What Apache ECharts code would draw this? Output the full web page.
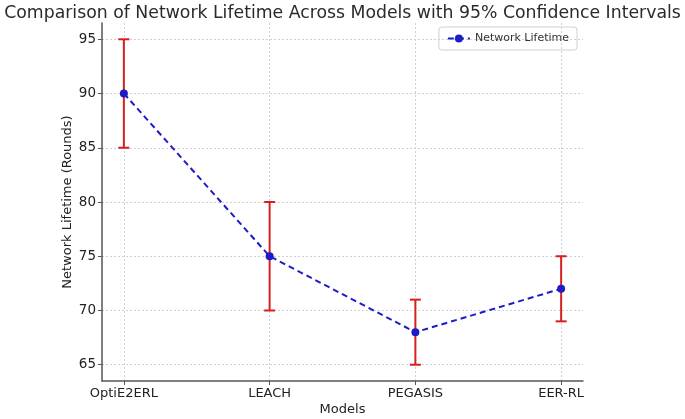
<!DOCTYPE html>
<html>
<head>
<meta charset="utf-8">
<script src="https://cdn.jsdelivr.net/npm/echarts@6/dist/echarts.min.js"></script>
<style>
  html, body { margin: 0; padding: 0; background: #fff; }
  #chart { width: 685px; height: 419px; }
</style>
</head>
<body>
<div id="chart"></div>
<script>
// data
const models = ["OptiE2ERL", "LEACH", "PEGASIS", "EER-RL"];
const lifetime = [90, 75, 68, 72];
const ciLow = [85, 70, 65, 69];
const ciHigh = [95, 80, 71, 75];
const yTicks = [65, 70, 75, 80, 85, 90, 95];
const xTicks = [0, 1, 2, 3];

const chart = echarts.init(document.getElementById("chart"));

const font = "DejaVu Sans";

chart.setOption({
  animation: false,
  textStyle: { fontFamily: font },
  title: {
    text: "Comparison of Network Lifetime Across Models with 95% Confidence Intervals",
    left: "center",
    top: 0,
    textStyle: { fontFamily: font, fontSize: 17.3, fontWeight: "normal", color: "#2a2a2a" }
  },
  legend: {
    right: 108,
    top: 27,
    data: ["Network Lifetime"],
    borderColor: "#d0d0d0",
    borderWidth: 1,
    borderRadius: 3,
    padding: [6, 8],
    itemWidth: 22,
    itemHeight: 10,
    itemGap: 6,
    textStyle: { fontFamily: font, fontSize: 11, color: "#333" }
  },
  grid: { left: 102, right: 102, top: 23, bottom: 38, outerBoundsMode: "none" },
  xAxis: {
    type: "value",
    min: -0.15,
    max: 3.15,
    name: "Models",
    nameLocation: "middle",
    nameGap: 22,
    nameMoveOverlap: false,
    nameTextStyle: { fontFamily: font, fontSize: 13, color: "#222" },
    axisLine: { onZero: false, lineStyle: { color: "#555", width: 1.5 } },
    axisTick: { customValues: xTicks, length: 4, lineStyle: { color: "#555" } },
    axisLabel: {
      customValues: xTicks,
      formatter: v => models[Math.round(v)] || "",
      fontSize: 13,
      color: "#222",
      margin: 6
    },
    splitLine: { show: true, lineStyle: { color: "#d0d0d0", type: [2, 2] } }
  },
  yAxis: {
    type: "value",
    min: 63.5,
    max: 96.5,
    name: "Network Lifetime (Rounds)",
    nameLocation: "middle",
    nameGap: 28,
    nameMoveOverlap: false,
    nameTextStyle: { fontFamily: font, fontSize: 13, color: "#222" },
    axisLine: { show: true, onZero: false, lineStyle: { color: "#555", width: 1.5 } },
    axisTick: { show: true, customValues: yTicks, length: 4, lineStyle: { color: "#555" } },
    axisLabel: { customValues: yTicks, fontSize: 13.5, color: "#222", margin: 6 },
    splitLine: { show: true, lineStyle: { color: "#d0d0d0", type: [2, 2] } }
  },
  series: [
    {
      name: "CI",
      type: "custom",
      z: 2,
      data: models.map((m, i) => [i, ciLow[i], ciHigh[i]]),
      renderItem: (params, api) => {
        const lo = api.coord([api.value(0), api.value(1)]);
        const hi = api.coord([api.value(0), api.value(2)]);
        const w = 5.5;
        const style = { stroke: "#d62020", lineWidth: 2 };
        return {
          type: "group",
          children: [
            { type: "line", shape: { x1: lo[0], y1: lo[1], x2: hi[0], y2: hi[1] }, style },
            { type: "line", shape: { x1: lo[0] - w, y1: lo[1], x2: lo[0] + w, y2: lo[1] }, style },
            { type: "line", shape: { x1: hi[0] - w, y1: hi[1], x2: hi[0] + w, y2: hi[1] }, style }
          ]
        };
      }
    },
    {
      name: "Network Lifetime",
      type: "line",
      z: 3,
      data: models.map((m, i) => [i, lifetime[i]]),
      symbol: "circle",
      symbolSize: 8,
      itemStyle: { color: "#1c1cc8" },
      lineStyle: { color: "#1c1cc8", width: 2, type: [6, 4] }
    }
  ]
});
</script>
</body>
</html>
